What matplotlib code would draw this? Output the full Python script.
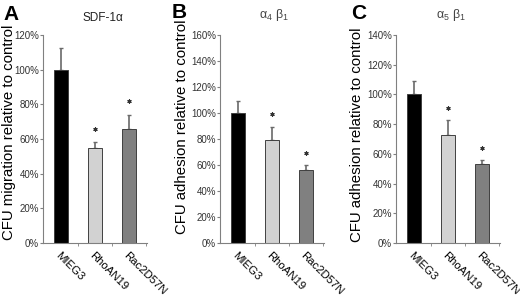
import matplotlib
matplotlib.use('Agg')
import matplotlib.pyplot as plt
import numpy as np

plt.rcParams['font.family'] = ['Liberation Sans', 'DejaVu Sans']
plt.rcParams['mathtext.fontset'] = 'custom'
plt.rcParams['mathtext.rm'] = 'Liberation Sans'

# data (% relative to control)
categories = ['MIEG3', 'RhoAN19', 'Rac2D57N']
bar_colors = ['#000000', '#d2d2d2', '#808080']

sdf_vals = [100, 55, 66]
sdf_err = [12.5, 3.5, 8]
sdf_star = [None, 66, 82]

a4b1_vals = [100, 79, 56]
a4b1_err = [9, 10, 4]
a4b1_star = [None, 99, 69]

a5b1_vals = [100, 73, 53]
a5b1_err = [9, 10, 3]
a5b1_star = [None, 91, 64]

panels = [
    ('A', 'SDF-1α', 'CFU migration relative to control', sdf_vals, sdf_err, sdf_star, 120, 20),
    ('B', r'α$_4$ β$_1$', 'CFU adhesion relative to control', a4b1_vals, a4b1_err, a4b1_star, 160, 20),
    ('C', r'α$_5$ β$_1$', 'CFU adhesion relative to control', a5b1_vals, a5b1_err, a5b1_star, 140, 20),
]

W, H = 520, 304
fig = plt.figure(figsize=(W / 100, H / 100), dpi=100)

lefts = [43, 220, 396]
letter_pos = [(3, 5), (172, 3), (351, 4)]
title_pos = [(103, 18), (274, 15), (451, 15)]
ylabel_pos = [(9, 132), (182, 127), (357, 135)]

for i, (letter, title, ylab, vals, err, stars, ymax, step) in enumerate(panels):
    ax = fig.add_axes([lefts[i] / W, 1 - 243 / H, 104 / W, 208 / H])
    x = np.arange(len(categories))
    ax.bar(x, vals, width=0.42, color=bar_colors, edgecolor='#404040', linewidth=0.7, zorder=2)
    ax.errorbar(x, vals, yerr=[np.zeros(3), err], fmt='none', ecolor='#6a6a6a',
                elinewidth=1.2, capsize=1.2, capthick=1, zorder=1)
    for xi, s in zip(x, stars):
        if s is not None:
            ax.plot(xi, s, marker=(6, 2, 0), ms=3, mew=0.8, color='#333333')
    ax.set_xlim(-0.53, 2.53)
    ax.set_ylim(0, ymax)
    ax.set_yticks(np.arange(0, ymax + 1, step))
    ax.set_yticklabels(['%d%%' % v for v in np.arange(0, ymax + 1, step)])
    ax.set_xticks(x)
    ax.set_xticklabels(categories, rotation=-45, ha='left', va='top',
                       rotation_mode='anchor', fontsize=8.2)
    ax.set_xticks([0.5, 1.5, 2.5], minor=True)
    ax.tick_params(axis='x', which='major', length=0, pad=5)
    ax.tick_params(axis='x', which='minor', length=2, color='#808080')
    ax.tick_params(axis='y', length=2, color='#808080', labelsize=7, labelcolor='#333333', pad=1)
    for sp in ['top', 'right']:
        ax.spines[sp].set_visible(False)
    for sp in ['left', 'bottom']:
        ax.spines[sp].set_color('#808080')
        ax.spines[sp].set_linewidth(0.8)

    lx, ly = letter_pos[i]
    fig.text(lx / W, 1 - ly / H, letter, fontsize=15, fontweight='bold', ha='left', va='top')
    tx, ty = title_pos[i]
    fig.text(tx / W, 1 - ty / H, title, fontsize=8.5 if i == 0 else 9, ha='center', va='center',
             color='#222222' if i == 0 else '#444444')
    yx, yy = ylabel_pos[i]
    fig.text(yx / W, 1 - yy / H, ylab, fontsize=10.8, rotation=90, ha='center', va='center')

fig.savefig('out.png', dpi=100)
